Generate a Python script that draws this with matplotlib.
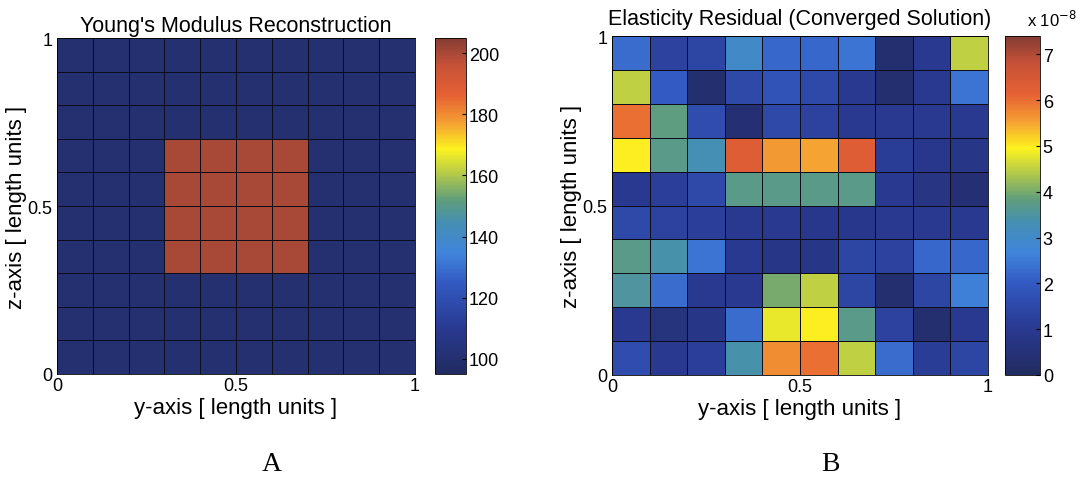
import numpy as np
import matplotlib.pyplot as plt
from matplotlib.colors import LinearSegmentedColormap

# Young's modulus per cell, rows from top (z=1) to bottom (z=0)
modulus = [
    [100, 100, 100, 100, 100, 100, 100, 100, 100, 100],
    [100, 100, 100, 100, 100, 100, 100, 100, 100, 100],
    [100, 100, 100, 100, 100, 100, 100, 100, 100, 100],
    [100, 100, 100, 200, 200, 200, 200, 100, 100, 100],
    [100, 100, 100, 200, 200, 200, 200, 100, 100, 100],
    [100, 100, 100, 200, 200, 200, 200, 100, 100, 100],
    [100, 100, 100, 200, 200, 200, 200, 100, 100, 100],
    [100, 100, 100, 100, 100, 100, 100, 100, 100, 100],
    [100, 100, 100, 100, 100, 100, 100, 100, 100, 100],
    [100, 100, 100, 100, 100, 100, 100, 100, 100, 100],
]

# elasticity residual per cell (x 1e-8), rows from top to bottom
residual = [
    [2.3, 1.3, 1.4, 3.0, 2.2, 2.2, 2.4, 0.3, 1.0, 4.5],
    [4.5, 2.0, 0.3, 1.5, 1.8, 1.5, 1.0, 0.3, 1.0, 2.4],
    [6.0, 3.8, 1.6, 0.4, 1.5, 1.3, 1.0, 1.0, 1.0, 1.0],
    [5.0, 3.7, 3.3, 6.3, 5.6, 5.5, 6.3, 1.1, 0.9, 0.8],
    [1.0, 1.2, 1.5, 3.7, 3.7, 3.7, 3.7, 1.0, 0.7, 0.4],
    [1.5, 1.3, 1.2, 1.0, 1.0, 0.9, 0.9, 1.0, 1.0, 1.0],
    [3.7, 3.4, 2.4, 1.0, 0.8, 0.8, 1.4, 1.3, 2.2, 2.2],
    [3.5, 2.3, 1.0, 1.0, 4.0, 4.5, 1.4, 0.3, 1.4, 2.6],
    [1.0, 0.6, 0.8, 2.3, 4.8, 5.0, 3.7, 1.3, 0.3, 1.0],
    [1.6, 1.0, 1.2, 3.4, 5.7, 6.0, 4.5, 2.3, 1.1, 1.4],
]

res_ticks = [0, 1, 2, 3, 4, 5, 6, 7]
mod_ticks = [100, 120, 140, 160, 180, 200]

# muted jet-like colour map
jet_colors = [
    (0.00, (0.13, 0.17, 0.38)),
    (0.13, (0.16, 0.22, 0.56)),
    (0.27, (0.20, 0.35, 0.76)),
    (0.36, (0.25, 0.52, 0.86)),
    (0.45, (0.27, 0.56, 0.70)),
    (0.52, (0.38, 0.62, 0.48)),
    (0.60, (0.72, 0.80, 0.28)),
    (0.67, (0.99, 0.95, 0.12)),
    (0.75, (0.96, 0.62, 0.20)),
    (0.83, (0.90, 0.38, 0.20)),
    (0.92, (0.78, 0.32, 0.22)),
    (1.00, (0.52, 0.24, 0.20)),
]
cmap = LinearSegmentedColormap.from_list("mjet", jet_colors)

plt.rcParams['font.family'] = ['Liberation Sans', 'DejaVu Sans']

fig = plt.figure(figsize=(10.84, 4.89), dpi=100)
W, H = 1084, 489

edges = np.linspace(0, 1, 11)


def panel(ax_rect, cb_rect, data, vmin, vmax, title, title_pad, ticks, letter, letter_x):
    ax = fig.add_axes([ax_rect[0] / W, 1 - ax_rect[3] / H,
                       (ax_rect[2] - ax_rect[0]) / W, (ax_rect[3] - ax_rect[1]) / H])
    cax = fig.add_axes([cb_rect[0] / W, 1 - cb_rect[3] / H,
                        (cb_rect[2] - cb_rect[0]) / W, (cb_rect[3] - cb_rect[1]) / H])
    mesh = ax.pcolormesh(edges, edges, np.array(data)[::-1], cmap=cmap,
                         vmin=vmin, vmax=vmax, edgecolors=(0.05, 0.05, 0.1),
                         linewidth=0.6)
    ax.set_xlim(0, 1)
    ax.set_ylim(0, 1)
    ax.set_xticks([0, 0.5, 1])
    ax.set_yticks([0, 0.5, 1])
    ax.set_xticklabels(["0", "0.5", "1"])
    ax.set_yticklabels(["0", "0.5", "1"])
    ax.tick_params(axis="x", direction="in", length=0, labelsize=13, pad=2)
    ax.tick_params(axis="y", direction="in", length=0, labelsize=13, pad=3.5)
    for s in ax.spines.values():
        s.set_linewidth(0.6)
    ax.set_title(title, fontsize=15.5, pad=title_pad)
    ax.set_xlabel("y-axis [ length units ]", fontsize=16, labelpad=2)
    ax.set_ylabel("z-axis [ length units ]", fontsize=16, labelpad=0)

    cb = fig.colorbar(mesh, cax=cax, ticks=ticks)
    cb.ax.tick_params(direction="in", length=3, labelsize=13, pad=2)
    cb.outline.set_linewidth(0.6)
    fig.text(letter_x / W, 1 - 465 / H, letter, family="Liberation Serif",
             fontsize=20, ha="center", va="center")
    return ax, cax


panel((57, 39, 415, 375), (435, 39, 466, 375), modulus, 95, 205,
      "Young's Modulus Reconstruction", 5, mod_ticks, "A", 272)
ax2, cax2 = panel((612, 37, 988, 376), (1005, 37, 1040, 376), residual, 0, 7.4,
                  "Elasticity Residual (Converged Solution)", 9, res_ticks, "B", 830)
cax2.text(1.35, 1.02, r"x 10$^{-8}$", transform=cax2.transAxes, fontsize=12,
          ha="center", va="bottom")

plt.savefig("out.png", dpi=100)
